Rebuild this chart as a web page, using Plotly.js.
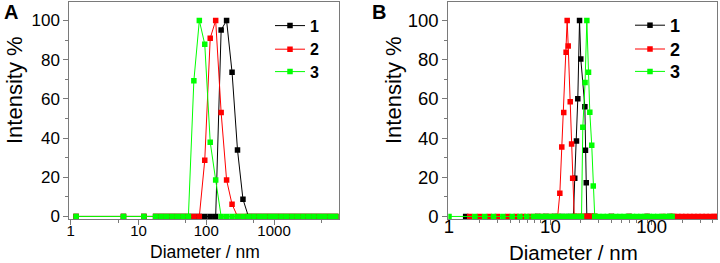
<!DOCTYPE html>
<html><head><meta charset="utf-8">
<script src="https://cdn.plot.ly/plotly-3.0.1.min.js"></script>
<style>html,body{margin:0;padding:0;background:#fff}#chart{width:720px;height:263px}</style>
</head><body><div id="chart"></div>
<script>
// ---------- data ----------
const seriesNames = ['1', '2', '3'];
const seriesColors = ['#000000', '#ff0000', '#00ff00'];

// Panel A: diameter bins (nm) shared by all three samples
const diamA = [1.2, 6.0, 12.0, 17.9, 21.6, 26.0, 31.3, 37.6, 45.3, 54.5, 65.6, 79.0, 95.0, 114.4, 137.7, 165.8, 199.5, 240.2, 289.0, 347.9, 418.8, 504.1, 606.8, 730.3, 879.0, 1058, 1273, 1532, 1845, 2220, 2672, 3217, 3872, 4660, 5609, 6752, 8127];
const intA1 = [0, 0, 0, 0, 0, 0, 0, 0, 0, 0, 0, 0, 0, 0, 0, 95.2, 100, 73.6, 33.9, 8.8, 0, 0, 0, 0, 0, 0, 0, 0, 0, 0, 0, 0, 0, 0, 0, 0, 0];
const intA2 = [0, 0, 0, 0, 0, 0, 0, 0, 0, 0, 0, 0, 28.7, 91, 100, 53, 18.6, 6.2, 0, 0, 0, 0, 0, 0, 0, 0, 0, 0, 0, 0, 0, 0, 0, 0, 0, 0, 0];
const intA3 = [0, 0, 0, 0, 0, 0, 0, 0, 0, 0, 69.3, 100, 87.9, 37.9, 18.6, 0, 0, 0, 0, 0, 0, 0, 0, 0, 0, 0, 0, 0, 0, 0, 0, 0, 0, 0, 0, 0, 0];

// Panel B
const diamB1 = [1.46, 7.5, 9.0, 11.0, 13.0, 15.0, 16.9, 17.4, 18.1, 18.65, 19.4, 19.96, 21.9, 22.2, 22.6, 22.9, 23.5, 25.0, 27.4, 40.0, 60.0, 90.0, 150];
const intB1 = [0, 0, 0, 0, 0, 0, 0, 19.5, 38.5, 60.1, 100, 80.4, 56, 33.8, 17.2, 0, 0, 0, 0, 0, 0, 0, 0];

const diamB2 = [1.6, 2.0, 2.5, 3.0, 3.8, 4.6, 5.4, 6.3, 7.2, 8.2, 9.3, 10.5, 11.8, 12.4, 12.96, 13.55, 14.3, 14.65, 15.0, 15.7, 16.2, 16.6, 17.2, 18.0, 18.9, 19.8, 20.8, 21.5, 22.3, 23.1, 23.9, 24.8, 25.7, 26.6, 27.6, 40.0, 60.0, 90.0, 130, 159, 165, 181, 198, 217, 238, 261, 286, 314, 344, 377, 413, 430];
const intB2 = [0, 0, 0, 0, 0, 0, 0, 0, 0, 0, 0, 0, 0, 11.8, 35.5, 53, 83.8, 100, 87, 58.6, 37, 19.5, 0, 0, 0, 0, 0, 0, 0, 0, 0, 0, 0, 0, 0, 0, 0, 0, 0, 0, 0, 0, 0, 0, 0, 0, 0, 0, 0, 0, 0, 0];

const diamB3 = [1.0, 1.8, 2.25, 2.75, 3.4, 4.2, 5.0, 5.85, 6.8, 7.5, 8.3, 9.1, 10.0, 11.0, 12.0, 13.2, 14.5, 15.9, 17.4, 19.0, 20.3, 20.9, 22.0, 22.9, 23.8, 24.5, 25.6, 26.5, 27.4, 30.1, 33.2, 36.5, 40.1, 44.1, 48.5, 53.4, 58.7, 64.6, 71.1, 78.2, 86.0, 94.6, 104, 114.5, 126, 138.5, 152, 159];
const intB3 = [0, 0, 0, 0, 0, 0, 0, 0, 0, 0, 0, 0, 0, 0, 0, 0, 0, 0, 0, 0, 0, 45.5, 68.3, 100, 73.6, 53.2, 36.3, 15.6, 0, 0, 0, 0, 0, 0, 0, 0, 0, 0, 0, 0, 0, 0, 0, 0, 0, 0, 0, 0];

// axis ticks
const yTicks = [0, 20, 40, 60, 80, 100];
const xTicksA = [1, 10, 100, 1000];
const xTickLabelsA = ['1', '10', '100', '1000'];
const xMinorA = [5, 50, 500, 5000];
const xTicksB = [1, 10, 100];
const xTickLabelsB = ['1', '10', '100'];
const xMinorB = [2, 3, 4, 5, 6, 7, 8, 9, 20, 30, 40, 50, 60, 70, 80, 90, 200, 300, 400];
const panelLabels = ['A', 'B'];
const xTitle = 'Diameter / nm';
const yTitle = 'Intensity %';

// ---------- chart ----------
const FONT = 'Liberation Sans, Arial, sans-serif';
const W = 720, H = 263;
const px = v => v / W, py = v => 1 - v / H;

// one single-entry legend per series so rows can be placed like the original
const legA = ['legend', 'legend3', 'legend4'];
const legB = ['legend2', 'legend5', 'legend6'];

function tr(x, y, i, xa, ya, leg) {
  return {
    x: x, y: y, name: seriesNames[i], type: 'scatter', mode: 'lines+markers',
    xaxis: xa, yaxis: ya, legend: leg,
    line: {color: seriesColors[i], width: 1},
    marker: {symbol: 'square', size: 5.5, color: seriesColors[i], line: {width: 0}},
    cliponaxis: true
  };
}

const data = [
  tr(diamA, intA1, 0, 'x', 'y', legA[0]),
  tr(diamA, intA2, 1, 'x', 'y', legA[1]),
  tr(diamA, intA3, 2, 'x', 'y', legA[2]),
  tr(diamB1, intB1, 0, 'x2', 'y2', legB[0]),
  tr(diamB2, intB2, 1, 'x2', 'y2', legB[1]),
  tr(diamB3, intB3, 2, 'x2', 'y2', legB[2])
];

const frame = '#7a7a7a';
function yax(dom, anchor, fs) {
  return {
    domain: dom, anchor: anchor, range: [-1.3, 109.7],
    tickvals: yTicks, ticktext: yTicks.map(String),
    ticks: 'outside', ticklen: 5, tickwidth: 1, tickcolor: frame,
    minor: {dtick: 10, ticks: 'outside', ticklen: 3, tickcolor: frame, showgrid: false},
    showline: true, linecolor: frame, linewidth: 1, mirror: true,
    showgrid: false, zeroline: false,
    tickfont: {family: FONT, size: fs, color: '#000'}, fixedrange: true
  };
}
function xax(dom, anchor, rng, tv, tt, mv, fs, so) {
  return {
    domain: dom, anchor: anchor, type: 'log', range: rng,
    tickvals: tv, ticktext: tt,
    ticks: 'outside', ticklen: 5, tickwidth: 1, tickcolor: frame,
    minor: {tickvals: mv, ticks: 'outside', ticklen: 3, tickcolor: frame, showgrid: false},
    showline: true, linecolor: frame, linewidth: 1, mirror: true,
    showgrid: false, zeroline: false, ticklabelstandoff: so,
    tickfont: {family: FONT, size: fs, color: '#000'}, fixedrange: true
  };
}

function leg(xLeft, yMid, fs) {
  return {x: px(xLeft), y: py(yMid), xanchor: 'left', yanchor: 'middle', bgcolor: 'rgba(0,0,0,0)',
    borderwidth: 0, font: {family: FONT, size: fs, weight: 'bold', color: '#000'}, itemwidth: 30};
}

const yDom = [py(219), py(1.5)];
const layout = {
  width: W, height: H,
  margin: {l: 0, r: 0, t: 0, b: 0, pad: 0},
  paper_bgcolor: '#fff', plot_bgcolor: '#fff',
  showlegend: true,
  xaxis: xax([px(69.3), px(339.3)], 'y', [-0.021, 3.963], xTicksA, xTickLabelsA, xMinorA, 15, -7),
  yaxis: yax(yDom, 'x', 17),
  xaxis2: xax([px(448.3), px(717.3)], 'y2', [-0.007, 2.647], xTicksB, xTickLabelsB, xMinorB, 18.5, -14),
  yaxis2: yax(yDom, 'x2', 18.5),
  legend: leg(270, 25.7, 16),
  legend3: leg(270, 49.3, 16),
  legend4: leg(270, 71.7, 16),
  legend2: leg(630, 25.5, 18),
  legend5: leg(630, 49.3, 18),
  legend6: leg(630, 71.7, 18),
  annotations: [
    {text: panelLabels[0], x: px(11), y: py(12), xref: 'paper', yref: 'paper', showarrow: false,
     xanchor: 'center', yanchor: 'middle', font: {family: FONT, size: 20, weight: 'bold', color: '#000'}},
    {text: panelLabels[1], x: px(379), y: py(12), xref: 'paper', yref: 'paper', showarrow: false,
     xanchor: 'center', yanchor: 'middle', font: {family: FONT, size: 20, weight: 'bold', color: '#000'}},
    {text: xTitle, x: px(205), y: py(252), xref: 'paper', yref: 'paper', showarrow: false,
     xanchor: 'center', yanchor: 'middle', font: {family: FONT, size: 17.5, color: '#000'}},
    {text: xTitle, x: px(573), y: py(252), xref: 'paper', yref: 'paper', showarrow: false,
     xanchor: 'center', yanchor: 'middle', font: {family: FONT, size: 20.5, color: '#000'}},
    {text: yTitle, x: px(14), y: py(90), xref: 'paper', yref: 'paper', showarrow: false, textangle: -90,
     xanchor: 'center', yanchor: 'middle', font: {family: FONT, size: 22, color: '#000'}},
    {text: yTitle, x: px(393), y: py(90), xref: 'paper', yref: 'paper', showarrow: false, textangle: -90,
     xanchor: 'center', yanchor: 'middle', font: {family: FONT, size: 22, color: '#000'}}
  ]
};

Plotly.newPlot('chart', data, layout, {displayModeBar: false, staticPlot: true});
</script>
</body></html>
